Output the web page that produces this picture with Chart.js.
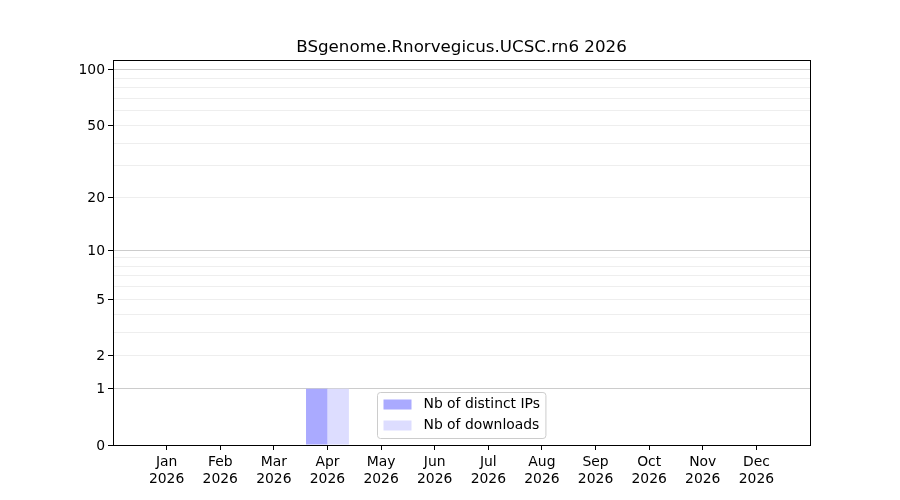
<!DOCTYPE html>
<html>
<head>
<meta charset="utf-8">
<script src="https://cdn.jsdelivr.net/npm/chart.js@4/dist/chart.umd.min.js"></script>
<style>
  html, body { margin: 0; padding: 0; background: #fff; }
  #wrap { width: 900px; height: 500px; }
</style>
</head>
<body>
<div id="wrap"><canvas id="myChart" width="900" height="500"></canvas></div>
<script>
const months = ['Jan', 'Feb', 'Mar', 'Apr', 'May', 'Jun', 'Jul', 'Aug', 'Sep', 'Oct', 'Nov', 'Dec'];
const year = '2026';
const distinctIps = [0, 0, 0, 1, 0, 0, 0, 0, 0, 0, 0, 0];
const downloads = [0, 0, 0, 1, 0, 0, 0, 0, 0, 0, 0, 0];

// y axis is log10(1 + n)
const gridValues = [0, 1, 2, 3, 4, 5, 6, 7, 8, 9, 10, 20, 30, 40, 50, 60, 70, 80, 90, 100];
const labelValues = [0, 1, 2, 5, 10, 20, 50, 100];
const majorValues = [1, 10, 100];
const yTop = 113;

const tr = v => Math.log10(1 + v);
const FONT = 'DejaVu Sans';

// title centred over the plot, not the canvas
const centreTitle = {
   id: 'centreTitle',
   afterLayout(chart) {
      const t = chart.titleBlock;
      if (!t) return;
      t.left = chart.chartArea.left;
      t.right = chart.chartArea.right;
      t.width = t.right - t.left;
   }
};

// black box round the plot area
const frame = {
   id: 'frame',
   afterDatasetsDraw(chart) {
      const a = chart.chartArea, c = chart.ctx;
      c.save();
      c.strokeStyle = '#000';
      c.lineWidth = 1;
      c.strokeRect(Math.round(a.left) + 0.5, Math.round(a.top) + 0.5,
         Math.round(a.right - a.left), Math.round(a.bottom - a.top));
      c.restore();
   }
};

// matplotlib style legend, lower centre inside the plot
const boxLegend = {
   id: 'boxLegend',
   afterDraw(chart) {
      const a = chart.chartArea, c = chart.ctx;
      const sets = chart.data.datasets;
      c.save();
      c.font = '13.9px "' + FONT + '"';
      let tw = 0;
      sets.forEach(d => { tw = Math.max(tw, c.measureText(d.label).width); });
      const w = 6 + 28 + 12 + tw + 6;
      const h = 46;
      const x = Math.round((a.left + a.right) / 2 - w / 2) + 0.5;
      const y = Math.round(a.bottom - 7 - h) + 0.5;
      c.beginPath();
      c.roundRect(x, y, w, h, 3);
      c.fillStyle = 'rgba(255,255,255,0.8)';
      c.fill();
      c.strokeStyle = '#cccccc';
      c.lineWidth = 1;
      c.stroke();
      sets.forEach((d, i) => {
         const cy = y + 12 + i * 21;
         c.fillStyle = d.backgroundColor;
         c.fillRect(x + 6, cy - 5, 28, 10);
         c.fillStyle = '#000';
         c.textBaseline = 'middle';
         c.fillText(d.label, x + 6 + 28 + 12, cy);
      });
      c.restore();
   }
};

const ctx = document.getElementById('myChart').getContext('2d');
const myChart = new Chart(ctx, {
   type: 'bar',
   data: {
      datasets: [{
         label: 'Nb of distinct IPs',
         data: distinctIps.map((v, i) => ({ x: i, y: tr(v) })),
         backgroundColor: '#aaaaff',
         borderWidth: 0
      }, {
         label: 'Nb of downloads',
         data: downloads.map((v, i) => ({ x: i, y: tr(v) })),
         backgroundColor: '#ddddff',
         borderWidth: 0
      }]
   },
   options: {
      responsive: false,
      animation: false,
      categoryPercentage: 0.8,
      barPercentage: 1.0,
      layout: { padding: { left: 0, right: 90, top: 0, bottom: 0 } },
      plugins: {
         legend: { display: false },
         tooltip: { enabled: false },
         title: {
            display: true,
            text: 'BSgenome.Rnorvegicus.UCSC.rn6 ' + year,
            color: '#000',
            font: { family: FONT, size: 16.7, weight: 'normal' },
            padding: { top: 38, bottom: 2 }
         }
      },
      scales: {
         x: {
            type: 'linear',
            min: -1,
            max: 12,
            offset: false,
            afterBuildTicks: s => { s.ticks = months.map((m, i) => ({ value: i })); },
            afterFit: s => { s.height = 55; },
            grid: { drawOnChartArea: false, tickLength: 5, color: '#000', offset: false },
            border: { color: '#000' },
            ticks: {
               autoSkip: false,
               maxRotation: 0,
               padding: 4,
               color: '#000',
               font: { family: FONT, size: 13.9 },
               callback: v => [months[v], year]
            }
         },
         y: {
            type: 'linear',
            min: 0,
            max: tr(yTop),
            afterBuildTicks: s => { s.ticks = gridValues.map(v => ({ value: tr(v) })); },
            afterFit: s => { s.width = 113; },
            border: { color: '#000' },
            grid: {
               tickLength: 5,
               color: c => {
                  const v = gridValues[c.index];
                  if (v === 0) return 'rgba(0,0,0,0)';
                  return majorValues.includes(v) ? '#cccccc' : '#eeeeee';
               },
               tickColor: c => labelValues.includes(gridValues[c.index]) ? '#000' : 'rgba(0,0,0,0)'
            },
            ticks: {
               autoSkip: false,
               padding: 3,
               labelOffset: 1,
               color: '#000',
               font: { family: FONT, size: 13.9 },
               callback: (v, i) => labelValues.includes(gridValues[i]) ? String(gridValues[i]) : ''
            }
         }
      }
   },
   plugins: [centreTitle, frame, boxLegend]
});
</script>
</body>
</html>
